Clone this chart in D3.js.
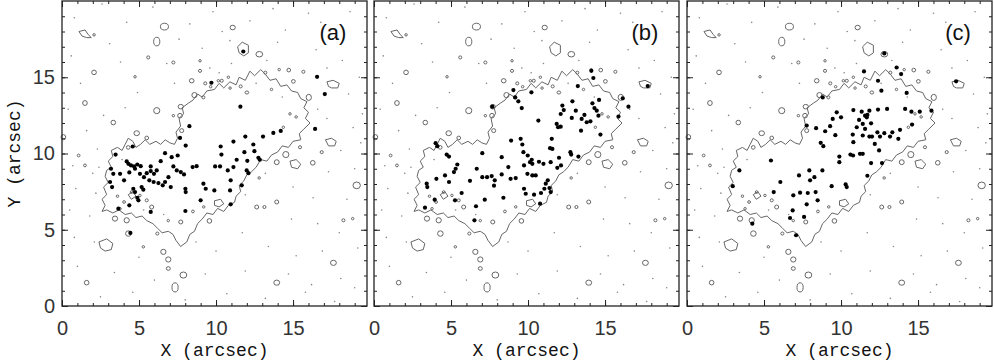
<!DOCTYPE html>
<html>
<head>
<meta charset="utf-8">
<script src="https://cdn.jsdelivr.net/npm/d3@7"></script>
<style>
  body { margin: 0; background: #fff; }
  svg { display: block; }
</style>
</head>
<body>
<div id="chart"></div>
<script>
// tick values
const majorTicks = [0, 5, 10, 15];
const minorTicks = d3.range(0, 20);
const panelLabels = ["(a)", "(b)", "(c)"];

// main contour of the region (arcsec)
const mainContour = [[2.6,6.2],[2.8,6.6],[2.6,7.0],[2.9,7.3],[2.7,7.8],[3.0,8.1],[2.8,8.5],[2.9,8.9],[3.2,9.1],[3.0,9.5],[3.3,9.8],[3.2,10.2],[3.6,10.4],[3.9,10.2],[4.1,10.6],[4.3,11.0],[4.6,10.8],[4.8,10.4],[5.1,10.6],[5.4,10.9],[5.7,10.6],[6.1,10.8],[6.4,10.6],[6.7,10.9],[7.0,10.7],[7.3,10.6],[7.5,11.0],[7.4,11.4],[7.7,11.8],[7.6,12.3],[7.9,12.6],[7.8,13.0],[8.2,13.3],[8.5,13.5],[8.8,13.9],[9.1,13.7],[9.4,14.1],[9.9,14.2],[10.2,14.6],[10.5,14.3],[10.9,14.7],[11.3,14.5],[11.5,15.0],[11.9,14.8],[12.2,15.4],[12.5,15.1],[12.9,15.5],[13.2,15.2],[13.5,14.8],[13.9,14.9],[14.2,14.4],[14.6,14.5],[14.9,14.1],[15.3,14.0],[15.5,13.6],[15.9,13.4],[15.7,13.0],[16.0,12.7],[15.8,12.3],[16.1,12.0],[15.7,11.6],[15.4,11.3],[15.5,10.9],[15.0,10.8],[14.7,10.4],[14.3,10.5],[14.0,10.1],[13.6,9.9],[13.3,9.5],[12.9,9.6],[12.6,9.1],[12.3,8.8],[12.0,8.6],[11.8,8.2],[11.5,7.9],[11.6,7.5],[11.3,7.2],[11.2,6.8],[10.8,6.6],[10.5,6.2],[10.1,6.4],[9.8,6.0],[9.4,6.1],[9.1,5.7],[8.8,5.4],[8.6,4.9],[8.3,4.7],[8.1,4.2],[7.7,3.9],[7.4,4.3],[7.2,4.7],[6.9,4.9],[6.5,4.8],[6.2,5.1],[5.9,5.4],[5.5,5.6],[5.2,5.9],[4.8,5.8],[4.5,6.1],[4.1,6.0],[3.7,6.3],[3.3,6.1],[2.9,6.3]];

// irregular small contour patches
const patches = [
  [[1.1,18.0],[1.5,18.1],[1.7,17.8],[1.9,17.6],[1.6,17.6],[1.3,17.7]],
  [[11.4,17.0],[11.7,17.3],[12.1,17.1],[12.1,16.6],[11.8,16.4],[11.5,16.6]],
  [[17.2,14.7],[17.6,14.8],[18.0,14.6],[17.9,14.3],[17.5,14.3],[17.3,14.4]],
  [[14.8,9.5],[15.2,9.6],[15.5,9.3],[15.3,9.0],[14.9,9.1]],
  [[17.1,10.9],[17.5,11.0],[17.8,10.8],[17.7,10.5],[17.3,10.5]],
  [[2.4,4.2],[2.9,4.4],[3.3,4.1],[3.2,3.7],[2.8,3.6],[2.5,3.8]],
  [[9.9,6.9],[10.3,7.0],[10.5,6.7],[10.2,6.5],[9.9,6.6]],
  [[4.3,7.3],[4.6,7.5],[4.8,7.2],[4.5,7.0]]
];

// small closed contours [x, y, rx, ry]
const blobs = [[6.65,18.32,0.26,0.22],[6.15,17.34,0.2,0.28],[11.08,18.26,0.17,0.15],[2.08,17.78,0.08,0.08],[2.08,15.32,0.15,0.15],[1.49,13.31,0.15,0.16],[3.33,12.03,0.15,0.15],[0.09,11.07,0.15,0.17],[1.08,9.87,0.09,0.09],[1.49,9.22,0.09,0.09],[5.6,16.3,0.1,0.1],[12.81,16.51,0.22,0.18],[8.42,14.77,0.15,0.14],[16.02,13.68,0.17,0.2],[14.72,15.47,0.12,0.12],[15.02,14.73,0.12,0.12],[15.67,15.36,0.1,0.1],[7.71,13.07,0.17,0.15],[6.15,12.81,0.2,0.2],[7.66,12.48,0.15,0.15],[4.85,11.33,0.18,0.16],[5.5,11.02,0.12,0.12],[14.53,9.93,0.2,0.2],[16.28,9.39,0.15,0.15],[13.94,9.43,0.16,0.16],[16.86,10.09,0.1,0.1],[19.13,7.91,0.24,0.22],[13.94,6.82,0.13,0.13],[12.64,6.49,0.13,0.13],[13.14,6.49,0.1,0.1],[18.27,5.62,0.1,0.1],[18.87,5.73,0.08,0.08],[4.31,4.75,0.18,0.18],[5.28,3.88,0.08,0.08],[6.58,3.55,0.17,0.17],[6.9,3.05,0.17,0.17],[6.9,2.46,0.13,0.12],[7.88,2.03,0.22,0.2],[7.34,1.22,0.2,0.3],[1.6,1.53,0.15,0.15],[13.94,1.53,0.19,0.17],[17.62,2.83,0.19,0.17],[4.2,5.62,0.17,0.17],[3.44,5.73,0.17,0.17],[5.82,6.49,0.13,0.13],[6.19,4.75,0.1,0.1],[7.71,5.51,0.13,0.13],[9.57,5.58,0.15,0.15],[4.74,15.03,0.08,0.08],[7.23,15.97,0.1,0.1],[8.96,16.08,0.08,0.08],[10.37,14.77,0.1,0.1],[8.6,13.83,0.17,0.17],[7.77,11.5,0.13,0.13],[4.3,10.4,0.12,0.12],[9.3,14.6,0.1,0.1],[10.8,15.0,0.08,0.08],[11.6,14.4,0.1,0.1],[12.0,14.0,0.12,0.1],[13.2,15.3,0.1,0.1],[14.1,15.5,0.08,0.08],[13.6,14.2,0.08,0.08],[4.52,7.47,0.09,0.09],[5.06,7.25,0.08,0.08],[5.5,6.93,0.1,0.1],[4.03,6.82,0.09,0.09],[3.77,6.38,0.08,0.08],[8.96,15.42,0.1,0.1],[10.15,14.77,0.08,0.08],[10.91,14.29,0.08,0.08],[9.18,13.68,0.1,0.1],[9.65,14.38,0.08,0.08],[7.23,12.48,0.08,0.08],[14.8,12.6,0.08,0.08],[14.37,11.72,0.08,0.08],[15.45,10.41,0.1,0.1],[8.5,6.2,0.09,0.09],[9.2,6.5,0.08,0.08],[6.9,5.6,0.08,0.08],[3.6,7.2,0.08,0.08],[15.2,12.4,0.08,0.08],[12.8,8.4,0.08,0.08]];

// tiny specks
const specks = [[2.6,19.8],[5.9,19.6],[9.8,19.3],[13.7,19.5],[16.0,19.2],[0.8,18.9],[4.2,18.6],[8.3,18.5],[10.4,18.0],[12.2,18.7],[14.5,18.1],[16.8,18.6],[18.7,19.3],[3.1,17.2],[7.6,17.5],[9.1,16.9],[10.9,17.4],[14.0,17.3],[16.5,16.8],[18.2,16.1],[0.6,16.4],[3.8,16.0],[6.8,15.9],[9.6,15.6],[13.3,16.1],[17.2,15.6],[19.3,15.0],[1.2,14.6],[4.9,14.0],[7.3,14.6],[11.0,15.9],[18.6,13.9],[19.5,12.6],[0.4,12.9],[2.7,12.5],[4.1,13.0],[17.2,12.3],[18.9,11.7],[1.6,11.5],[2.3,10.3],[18.1,10.2],[19.4,10.7],[0.7,9.2],[2.0,8.7],[17.3,8.8],[19.0,9.0],[0.9,7.7],[2.2,7.4],[15.0,7.8],[16.3,7.1],[18.5,7.0],[0.5,6.3],[1.8,5.9],[14.9,5.7],[16.6,5.4],[18.0,4.8],[0.8,4.5],[2.1,4.2],[5.0,3.2],[8.7,4.2],[10.0,3.6],[11.7,4.8],[13.4,3.9],[15.2,3.3],[16.9,3.6],[19.2,3.8],[1.0,2.6],[3.4,2.2],[6.0,1.7],[9.3,2.1],[11.9,2.3],[14.7,2.1],[16.2,1.4],[18.1,1.8],[2.5,0.6],[4.6,0.9],[8.0,0.4],[10.7,0.8],[13.2,0.5],[15.8,0.9],[17.7,0.3],[19.0,1.2],[3.9,9.6],[2.4,9.1],[5.3,6.3],[6.6,6.0],[10.2,15.3],[12.6,14.6],[14.3,13.7],[16.6,12.9],[13.2,8.7],[11.9,7.3]];

// filled dots for each panel
const dotsA = [[11.77,16.69],[9.70,14.64],[16.56,15.03],[17.06,13.90],[11.58,13.07],[16.43,11.61],[8.27,11.79],[7.66,11.02],[8.03,10.52],[4.59,10.46],[3.48,9.93],[6.69,10.02],[7.12,9.76],[7.51,9.87],[10.30,10.46],[10.35,9.93],[11.13,10.78],[11.90,11.11],[12.42,10.59],[12.49,10.15],[13.05,11.11],[13.72,11.35],[14.20,11.48],[11.84,10.09],[12.75,9.72],[12.03,9.52],[12.84,9.59],[11.34,9.59],[11.99,8.89],[12.10,8.71],[11.13,9.11],[10.76,8.89],[10.26,9.15],[9.94,9.15],[8.74,9.17],[8.48,9.11],[9.18,8.02],[9.33,7.69],[9.89,7.58],[10.95,8.24],[10.91,7.58],[11.67,7.91],[10.95,6.67],[9.00,6.93],[8.01,6.23],[5.76,6.17],[4.37,6.60],[3.66,6.38],[4.44,4.79],[3.18,9.00],[3.33,8.67],[3.12,8.13],[3.25,7.80],[3.77,8.67],[4.03,8.24],[4.20,9.48],[4.31,9.32],[4.48,9.22],[4.68,9.15],[4.89,9.28],[5.11,9.17],[4.37,8.76],[4.74,9.00],[5.06,8.67],[5.32,8.45],[5.50,8.71],[5.76,8.85],[5.97,8.67],[6.15,8.89],[5.67,8.24],[5.95,8.13],[6.26,8.06],[6.54,7.91],[6.69,8.13],[6.91,8.45],[6.41,9.50],[7.23,9.15],[7.45,8.89],[7.71,8.78],[7.92,8.63],[7.06,7.80],[8.01,7.69],[8.03,7.47],[4.63,7.69],[4.74,7.47],[4.89,7.10],[4.96,6.93],[5.28,7.63],[5.17,7.80],[5.76,9.15]];
const dotsB = [[14.11,15.42],[14.24,14.95],[13.23,14.42],[17.77,14.42],[9.05,14.16],[10.22,14.01],[9.16,13.68],[9.37,13.42],[7.68,13.07],[9.59,12.98],[16.15,13.62],[16.52,13.07],[15.87,12.42],[12.23,13.14],[12.32,12.85],[12.88,13.42],[12.12,12.59],[13.10,12.81],[12.84,12.33],[13.48,12.27],[13.66,12.53],[14.18,13.29],[14.31,12.98],[14.61,13.51],[14.46,12.81],[14.57,12.48],[13.81,12.05],[14.05,12.11],[13.44,11.50],[11.86,11.94],[11.95,11.72],[12.12,11.76],[10.67,12.16],[14.70,11.24],[11.54,10.96],[11.43,10.35],[11.58,10.30],[12.01,9.72],[12.80,9.93],[13.27,9.80],[12.75,10.09],[9.52,10.96],[9.63,10.59],[8.90,10.85],[9.70,10.09],[9.98,9.87],[10.24,9.59],[10.28,9.32],[10.13,9.43],[10.71,9.46],[11.00,9.32],[11.47,9.43],[9.74,9.22],[9.96,8.67],[10.28,8.56],[10.50,8.56],[12.14,9.22],[11.90,9.06],[11.28,8.24],[11.15,8.02],[11.06,7.69],[11.39,7.73],[11.47,7.47],[9.74,7.69],[9.85,7.36],[10.39,7.30],[10.84,7.41],[10.78,6.71],[7.03,10.02],[8.29,9.76],[8.72,9.11],[9.20,8.39],[8.87,8.34],[6.67,9.00],[6.23,8.21],[7.03,8.45],[7.34,8.45],[7.64,8.52],[7.84,8.24],[7.79,7.89],[8.29,8.63],[7.19,6.97],[6.62,6.54],[6.52,5.62],[8.40,7.10],[5.69,7.41],[5.26,6.93],[4.00,10.68],[4.11,10.48],[4.72,9.93],[4.87,9.80],[5.41,9.28],[5.30,9.00],[5.19,8.78],[4.61,8.56],[4.87,8.13],[4.05,8.34],[3.42,8.02],[3.46,7.80],[3.94,6.97],[3.31,6.45]];
const dotsC = [[12.81,16.56],[13.61,15.64],[13.90,15.21],[11.49,15.38],[12.40,14.77],[12.62,14.12],[17.47,14.73],[14.26,13.97],[15.87,12.81],[8.81,13.68],[9.72,12.70],[10.00,12.37],[9.46,12.27],[9.29,11.79],[8.97,11.46],[9.63,11.20],[7.77,11.83],[8.38,11.66],[8.68,10.70],[8.85,10.48],[9.89,9.80],[9.89,9.43],[10.61,9.93],[10.78,9.87],[11.23,9.98],[11.41,9.98],[11.95,9.37],[12.66,9.37],[10.80,10.74],[10.76,11.24],[10.80,12.85],[11.34,12.74],[11.84,12.81],[12.40,12.88],[12.99,12.92],[11.56,12.48],[11.67,12.37],[11.71,12.53],[11.17,12.20],[11.02,11.72],[11.41,11.94],[11.56,11.61],[11.41,11.18],[11.84,11.11],[12.01,11.11],[12.36,11.39],[12.53,11.11],[12.81,11.33],[13.18,11.11],[13.33,11.39],[11.95,11.98],[12.19,10.63],[12.47,10.20],[13.72,10.96],[13.83,11.55],[14.16,12.92],[14.57,12.74],[15.11,12.74],[14.61,11.90],[5.45,9.54],[7.27,8.56],[7.94,8.89],[7.99,8.24],[8.27,8.45],[8.79,8.89],[6.06,8.13],[5.63,7.47],[2.97,7.86],[3.40,8.89],[6.90,7.26],[7.34,7.43],[7.84,7.41],[8.35,7.47],[8.48,6.93],[7.77,6.67],[6.86,6.27],[6.69,5.77],[7.60,5.84],[7.08,4.64],[4.24,5.40],[9.39,7.86],[10.30,7.97],[10.37,7.80],[11.71,8.54]];

const W = 994, H = 362;
const panelLefts = [62, 374, 687];
const panelW = 305;
const plotTop = 1, plotBottom = 306;
const xMax = 19.8, yMax = 20;

const svg = d3.select("#chart").append("svg")
    .attr("width", W)
    .attr("height", H);

const y = d3.scaleLinear().domain([0, yMax]).range([plotBottom, plotTop]);

function drawPanel(i, dots) {
    const x = d3.scaleLinear().domain([0, xMax]).range([0, panelW]);
    const g = svg.append("g").attr("transform", `translate(${panelLefts[i]},0)`);

    // contours
    const line = d3.line().x(d => x(d[0])).y(d => y(d[1])).curve(d3.curveLinearClosed);
    g.append("path")
        .attr("d", line(mainContour))
        .attr("fill", "none")
        .attr("stroke", "#666")
        .attr("stroke-width", 1);

    g.selectAll(".patch").data(patches).enter().append("path")
        .attr("class", "patch")
        .attr("d", d => line(d))
        .attr("fill", "none")
        .attr("stroke", "#666")
        .attr("stroke-width", 1);

    g.selectAll(".blob").data(blobs).enter().append("ellipse")
        .attr("class", "blob")
        .attr("cx", d => x(d[0]))
        .attr("cy", d => y(d[1]))
        .attr("rx", d => x(d[2]) - x(0))
        .attr("ry", d => y(0) - y(d[3]))
        .attr("fill", "none")
        .attr("stroke", "#666")
        .attr("stroke-width", 1);

    g.selectAll(".speck").data(specks).enter().append("circle")
        .attr("class", "speck")
        .attr("cx", d => x(d[0]))
        .attr("cy", d => y(d[1]))
        .attr("r", 0.8)
        .attr("fill", "#888");

    // filled dots
    g.selectAll(".dot").data(dots).enter().append("circle")
        .attr("class", "dot")
        .attr("cx", d => x(d[0]))
        .attr("cy", d => y(d[1]))
        .attr("r", 2.1)
        .attr("fill", "#000");

    // frame
    g.append("rect")
        .attr("x", 0).attr("y", plotTop)
        .attr("width", panelW).attr("height", plotBottom - plotTop)
        .attr("fill", "none")
        .attr("stroke", "#222")
        .attr("stroke-width", 1.3);

    // inward ticks on all sides
    const axes = [
        [d3.axisBottom(x), `translate(0,${plotBottom})`],
        [d3.axisTop(x), `translate(0,${plotTop})`],
        [d3.axisLeft(y), "translate(0,0)"],
        [d3.axisRight(y), `translate(${panelW},0)`]
    ];
    axes.forEach(([ax, tr]) => {
        g.append("g").attr("transform", tr)
            .call(ax.tickValues(minorTicks).tickSize(-3).tickFormat(""))
            .call(s => s.select(".domain").remove())
            .selectAll("line").attr("stroke", "#222");
    });

    const xb = g.append("g").attr("transform", `translate(0,${plotBottom})`)
        .call(d3.axisBottom(x).tickValues(majorTicks).tickSize(-6).tickPadding(15));
    const xt = g.append("g").attr("transform", `translate(0,${plotTop})`)
        .call(d3.axisTop(x).tickValues(majorTicks).tickSize(-6).tickFormat(""));
    const yr = g.append("g").attr("transform", `translate(${panelW},0)`)
        .call(d3.axisRight(y).tickValues(majorTicks).tickSize(-6).tickFormat(""));
    const yl = g.append("g")
        .call(d3.axisLeft(y).tickValues(majorTicks).tickSize(-6).tickPadding(7)
            .tickFormat(i === 0 ? d3.format("d") : ""));
    [xb, xt, yr, yl].forEach(a => {
        a.select(".domain").remove();
        a.selectAll("line").attr("stroke", "#222");
        a.selectAll("text")
            .attr("font-family", "Liberation Sans, Arial, sans-serif")
            .attr("font-size", 20)
            .attr("fill", "#333");
    });

    // panel label
    g.append("text")
        .attr("x", 271).attr("y", 40)
        .attr("text-anchor", "middle")
        .attr("font-family", "Liberation Sans, Arial, sans-serif")
        .attr("font-size", 22)
        .attr("fill", "#111")
        .text(panelLabels[i]);

    // x title
    g.append("text")
        .attr("x", panelW / 2).attr("y", 356)
        .attr("text-anchor", "middle")
        .attr("font-family", "Liberation Mono, Courier New, monospace")
        .attr("font-size", 18)
        .attr("fill", "#111")
        .text("X (arcsec)");
}

drawPanel(0, dotsA);
drawPanel(1, dotsB);
drawPanel(2, dotsC);

svg.append("text")
    .attr("transform", `translate(20,${(plotTop + plotBottom) / 2}) rotate(-90)`)
    .attr("text-anchor", "middle")
    .attr("font-family", "Liberation Mono, Courier New, monospace")
    .attr("font-size", 18)
    .attr("fill", "#111")
    .text("Y (arcsec)");
</script>
</body>
</html>
